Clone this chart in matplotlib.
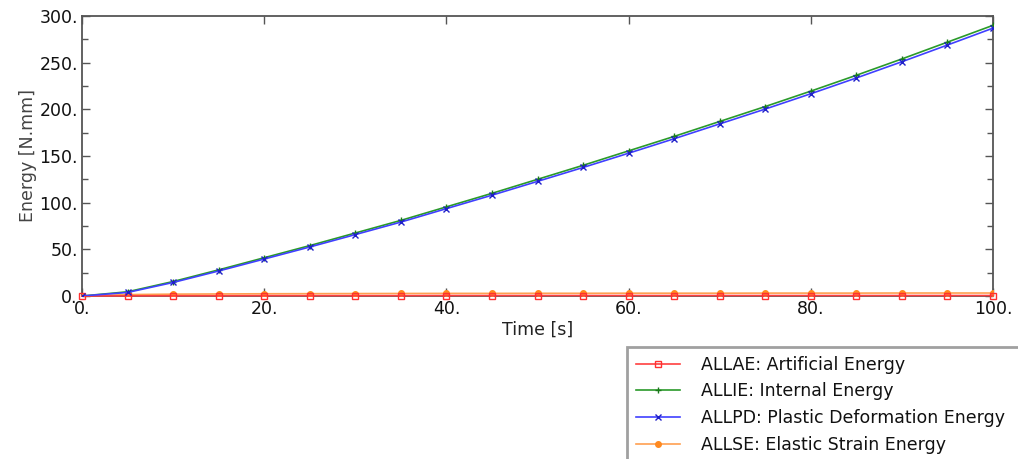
import matplotlib
matplotlib.use("Agg")
import matplotlib.pyplot as plt
from matplotlib.ticker import MultipleLocator

plt.rcParams['font.family'] = ['DejaVu Sans']

# Energy histories sampled every 5 s
time = [0, 5, 10, 15, 20, 25, 30, 35, 40, 45, 50, 55, 60, 65, 70, 75, 80, 85, 90, 95, 100]
allae = [0.0, 0.2, 0.3, 0.3, 0.4, 0.4, 0.4, 0.4, 0.5, 0.5, 0.5, 0.5, 0.5, 0.5, 0.5, 0.5, 0.5, 0.5, 0.5, 0.5, 0.5]
allie = [0.0, 4.5, 15.5, 28.0, 41.0, 54.0, 67.5, 81.0, 95.5, 110.0, 125.0, 140.0, 155.5, 171.0, 187.0, 203.0, 219.5, 236.5, 254.0, 272.0, 290.0]
allpd = [0.0, 3.8, 14.5, 26.8, 39.6, 52.5, 65.8, 79.2, 93.6, 108.0, 122.8, 137.7, 153.0, 168.5, 184.4, 200.3, 216.7, 233.6, 251.0, 268.9, 287.0]
allse = [0.0, 1.5, 2.0, 2.2, 2.4, 2.5, 2.6, 2.7, 2.8, 2.8, 2.9, 2.9, 3.0, 3.0, 3.0, 3.1, 3.1, 3.1, 3.2, 3.2, 3.2]

labels = ["ALLAE: Artificial Energy",
          "ALLIE: Internal Energy",
          "ALLPD: Plastic Deformation Energy",
          "ALLSE: Elastic Strain Energy"]

xticks = [0, 20, 40, 60, 80, 100]
xticklabels = ["0.", "20.", "40.", "60.", "80.", "100."]
yticks = [0, 50, 100, 150, 200, 250, 300]
yticklabels = ["0.", "50.", "100.", "150.", "200.", "250.", "300."]

fig = plt.figure(figsize=(10.18, 4.59), dpi=100)
ax = fig.add_axes([82 / 1018, 1 - 296 / 459, 911 / 1018, 280 / 459])

lw = 1.2
h1, = ax.plot(time, allae, color='#ff4040', lw=lw, marker='s', ms=4,
              mfc='none', mec='#ff3030', mew=1.0, label=labels[0], zorder=4,
              clip_on=False)
h2, = ax.plot(time, allie, color='#2a9a2a', lw=lw, marker='+', ms=5,
              mec='#1a7a1a', mew=1.0, label=labels[1], zorder=3)
h3, = ax.plot(time, allpd, color='#4040ff', lw=lw, marker='x', ms=4,
              mec='#2020c8', mew=1.0, label=labels[2], zorder=4)
h4, = ax.plot(time, allse, color='#ffa050', lw=lw, marker='o', ms=4,
              mfc='#ff8a20', mec='#ff8a20', label=labels[3], zorder=3)

ax.set_xlim(0, 100)
ax.set_ylim(0, 300)
ax.set_xticks(xticks)
ax.set_xticklabels(xticklabels)
ax.set_yticks(yticks)
ax.set_yticklabels(yticklabels)
ax.yaxis.set_minor_locator(MultipleLocator(25))

ax.tick_params(axis='both', which='both', direction='in', top=True, right=True,
               color='#555555', labelsize=12.5, labelcolor='#111111')
ax.tick_params(axis='both', which='major', length=6, width=1)
ax.tick_params(axis='both', which='minor', length=4, width=1)
ax.tick_params(axis='x', pad=3)
ax.tick_params(axis='y', pad=3)
for s in ax.spines.values():
    s.set_color('#555555')
    s.set_linewidth(1.3)

ax.set_xlabel("Time [s]", fontsize=12.5, color='#222222', labelpad=2)
ax.set_ylabel("Energy [N.mm]", fontsize=12.5, color='#444444', labelpad=2)

# Legend box runs past the right edge of the figure
leg = fig.legend(handles=[h1, h2, h3, h4], labels=labels,
                 loc='upper left', mode='expand',
                 bbox_to_anchor=(627 / 1018, 1 - 347 / 459, 0.4, 0.0),
                 bbox_transform=fig.transFigure, fontsize=12.5,
                 frameon=True, fancybox=False, edgecolor='#888888',
                 handlelength=2.55, handletextpad=1.2, labelspacing=0.5,
                 borderpad=0.5, borderaxespad=0)
leg.get_frame().set_linewidth(2.0)
for t in leg.get_texts():
    t.set_color('#111111')

fig.savefig("out.png", dpi=100)
